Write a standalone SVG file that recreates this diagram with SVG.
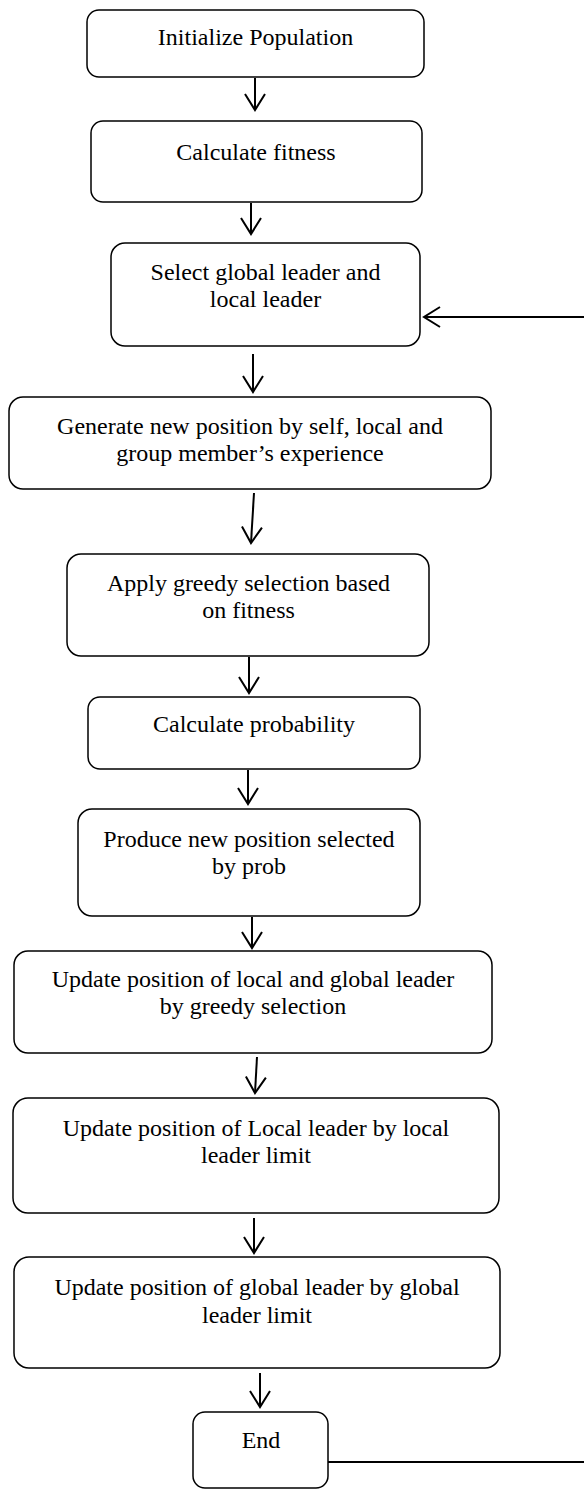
<svg xmlns="http://www.w3.org/2000/svg" width="584" height="1490" viewBox="0 0 584 1490">
<defs>
<marker id="ah" markerUnits="userSpaceOnUse" markerWidth="40" markerHeight="40" viewBox="-20 -20 40 40" refX="0" refY="0" orient="auto">
<path d="M-16,-10 L0,0 L-16,10" fill="none" stroke="#000" stroke-width="2"/>
</marker>
</defs>
<style>
.box{fill:#fff;stroke:#000;stroke-width:1.5}
.t{font-family:"Liberation Serif","Times New Roman",serif;font-size:24px;fill:#000;text-anchor:middle}
.c{fill:none;stroke:#000;stroke-width:2}
.a{marker-end:url(#ah)}
</style>
<rect width="584" height="1490" fill="#fff"/>
<g id="connectors">
<line class="c a" x1="255" y1="78" x2="255" y2="110"/>
<line class="c a" x1="251" y1="203" x2="251" y2="234"/>
<line class="c a" x1="584" y1="317" x2="424" y2="317"/>
<line class="c a" x1="253" y1="354" x2="253" y2="392"/>
<line class="c a" x1="254" y1="493" x2="251" y2="543"/>
<line class="c a" x1="249" y1="657" x2="249" y2="693"/>
<line class="c a" x1="248" y1="770" x2="248" y2="804"/>
<line class="c a" x1="252" y1="917" x2="252" y2="948"/>
<line class="c a" x1="257" y1="1057" x2="255" y2="1093"/>
<line class="c a" x1="254" y1="1218" x2="254" y2="1253"/>
<line class="c a" x1="260" y1="1373" x2="260" y2="1407"/>
<line class="c" x1="328" y1="1462" x2="584" y2="1462"/>
</g>
<g id="n1">
<rect class="box" x="87" y="10" width="337" height="67" rx="12"/>
<text class="t" x="255.5" y="45">Initialize Population</text>
</g>
<g id="n2">
<rect class="box" x="91" y="121" width="331" height="81" rx="12"/>
<text class="t" x="256" y="160">Calculate fitness</text>
</g>
<g id="n3">
<rect class="box" x="111" y="243" width="309" height="103" rx="14"/>
<text class="t" x="265.5" y="280">Select global leader and</text>
<text class="t" x="265.5" y="307">local leader</text>
</g>
<g id="n4">
<rect class="box" x="9" y="397" width="482" height="92" rx="14"/>
<text class="t" x="250" y="434">Generate new position by self, local and</text>
<text class="t" x="250" y="461">group member’s experience</text>
</g>
<g id="n5">
<rect class="box" x="67" y="554" width="362" height="102" rx="14"/>
<text class="t" x="248.5" y="591">Apply greedy selection based</text>
<text class="t" x="248.5" y="618">on fitness</text>
</g>
<g id="n6">
<rect class="box" x="88" y="697" width="332" height="72" rx="12"/>
<text class="t" x="254" y="732">Calculate probability</text>
</g>
<g id="n7">
<rect class="box" x="78" y="809" width="342" height="107" rx="14"/>
<text class="t" x="249" y="847">Produce new position selected</text>
<text class="t" x="249" y="874">by prob</text>
</g>
<g id="n8">
<rect class="box" x="14" y="951" width="478" height="102" rx="14"/>
<text class="t" x="253" y="987">Update position of local and global leader</text>
<text class="t" x="253" y="1014">by greedy selection</text>
</g>
<g id="n9">
<rect class="box" x="13" y="1098" width="486" height="115" rx="15"/>
<text class="t" x="256" y="1136">Update position of Local leader by local</text>
<text class="t" x="256" y="1163">leader limit</text>
</g>
<g id="n10">
<rect class="box" x="14" y="1257" width="486" height="111" rx="15"/>
<text class="t" x="257" y="1295">Update position of global leader by global</text>
<text class="t" x="257" y="1323">leader limit</text>
</g>
<g id="n11">
<rect class="box" x="193" y="1412" width="135" height="76" rx="12"/>
<text class="t" x="261" y="1448">End</text>
</g>
</svg>
